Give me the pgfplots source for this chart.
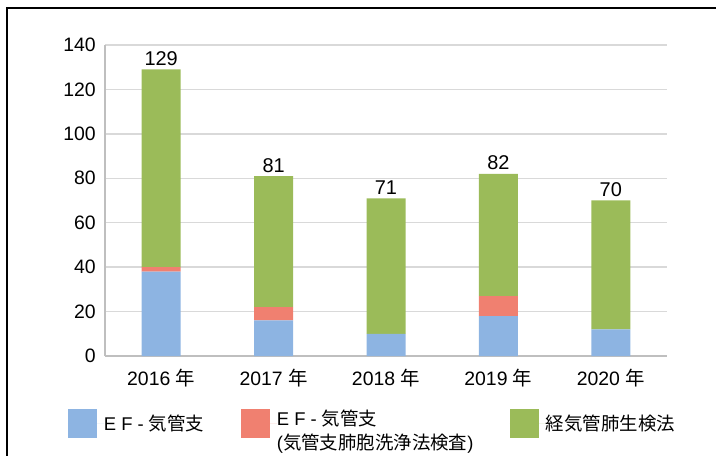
\documentclass[border=0pt]{standalone}
\usepackage{fontspec}
\setmainfont{Liberation Sans}
\newfontfamily\jp{Noto Sans CJK JP}
\usepackage{pgfplots}
\pgfplotsset{compat=1.18}
\definecolor{efblue}{RGB}{141,180,226}
\definecolor{efred}{RGB}{240,128,112}
\definecolor{tbgreen}{RGB}{155,187,89}
\definecolor{gridgray}{RGB}{217,217,217}
\definecolor{axisgray}{RGB}{191,191,191}
\newcommand{\lbl}{\fontsize{19.5}{22}\selectfont}
\pgfplotsset{samebox/.style={
  scale only axis, width=562bp, height=311bp,
  xmin=-0.5, xmax=4.5, ymin=0, ymax=140,
  /pgf/number format/assume math mode=true}}
\begin{document}
\begin{tikzpicture}
\begin{axis}[
  samebox,
  ybar stacked, bar width=39bp,
  ytick={0,20,...,140}, xtick={0,1,2,3,4},
  xticklabels={2016 {\jp 年}, 2017 {\jp 年}, 2018 {\jp 年}, 2019 {\jp 年}, 2020 {\jp 年}},
  major tick length=0pt,
  axis x line*=bottom, axis y line*=left,
  axis line style={-, axisgray, line width=1.4bp},
  ymajorgrids, grid style={gridgray, line width=1.3bp},
  ticklabel style={font=\lbl, inner sep=0pt},
  yticklabel style={xshift=-9bp},
  xticklabel style={yshift=-13bp},
  legend columns=3,
  legend image code/.code={
    \fill[#1] (0bp,-14.5bp) rectangle (29bp,14.5bp);
    \path (0bp,0bp) -- (36bp,0bp);
  },
  legend style={at={(-0.066,-0.2163)}, anchor=west, draw=none, fill=none,
    inner sep=0pt, outer sep=0pt, column sep=0pt, row sep=0pt,
    cells={anchor=west},
    nodes={inner sep=0pt, font=\fontsize{18.5}{24}\selectfont}},
]
\addplot[fill=efblue, draw=none] coordinates {(0,38) (1,16) (2,10) (3,18) (4,12)};
\addlegendentry{\makebox[137bp][l]{E F - {\jp 気管支}}}
\addplot[fill=efred, draw=none] coordinates {(0,2) (1,6) (2,0) (3,9) (4,0)};
\addlegendentry{\makebox[233bp][l]{\begin{tabular}{@{}l@{}}E F - {\jp 気管支}\\({\jp 気管支肺胞洗浄法検査})\end{tabular}}}
\addplot[fill=tbgreen, draw=none] coordinates {(0,89) (1,59) (2,61) (3,55) (4,58)};
\addlegendentry{{\jp 経気管肺生検法}}
\end{axis}
% totals above the stacks, on an identical hidden axis
\begin{axis}[samebox, hide axis]
\addplot[draw=none, mark=none, nodes near coords,
  every node near coord/.append style={font=\fontsize{20}{22}\selectfont, inner sep=0pt, anchor=south, yshift=3.5bp, black}]
  coordinates {(0,129) (1,81) (2,71) (3,82) (4,70)};
\end{axis}
\draw[black, line width=1.3bp] (-98bp,-102bp) -- (-98bp,348bp) -- (613bp,348bp);
\pgfresetboundingbox
\path[use as bounding box] (-105bp,-100bp) rectangle (611bp,356bp);
\end{tikzpicture}
\end{document}
